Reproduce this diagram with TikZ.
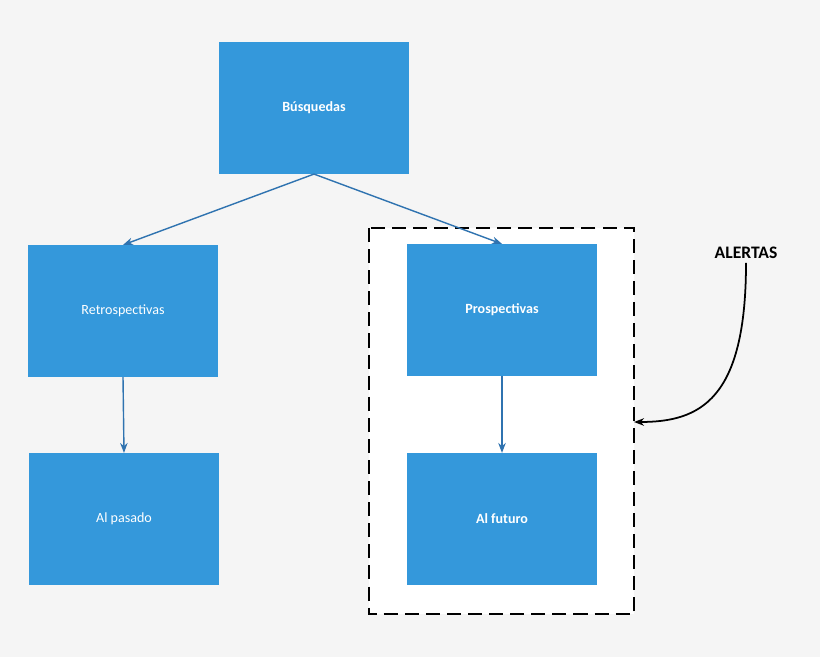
\documentclass[tikz,border=0pt]{standalone}
\usepackage{fontspec}
\setmainfont{Carlito}
\usetikzlibrary{arrows.meta}
\definecolor{boxblue}{HTML}{3498DB}
\definecolor{lineblue}{HTML}{2F73B0}
\definecolor{bggray}{HTML}{F5F5F5}
\tikzset{
  box/.style={fill=boxblue, text=white, font=\fontsize{12}{14}\selectfont, minimum width=5.7cm, minimum height=3.95cm, inner sep=0pt},
  link/.style={draw=lineblue, line width=1.2pt, -{Stealth[length=3mm]}}
}
\begin{document}
\begin{tikzpicture}[x=0.03cm, y=-0.03cm]

\fill[bggray] (0,0) rectangle (820,657);
\useasboundingbox (0,0) rectangle (820,657);
\draw[fill=white, line width=1.5pt, dash pattern=on 12pt off 6pt] (369,228) rectangle (634,614);

\node[box] (busq) at (314,108) {\textbf{Búsquedas}};
\node[box] (retro) at (123,311) {Retrospectivas};
\node[box] (pasado) at (124,519) {Al pasado};
\node[box] (prosp) at (502,310) {\textbf{Prospectivas}};
\node[box] (futuro) at (502,519) {\textbf{Al futuro}};
\node[font=\fontsize{15}{18}\selectfont\bfseries] (alertas) at (746,253) {ALERTAS};
\coordinate (marco) at (634,422);

\draw[link] (busq.south) -- (retro.north);
\draw[link] (busq.south) -- (prosp.north);
\draw[link] (retro.south) -- (pasado.north);
\draw[link] (prosp.south) -- (futuro.north);
\draw[line width=1.5pt, -{Stealth[length=3mm]}] (alertas.south) .. controls (746,400) and (700,422) .. (marco);

\end{tikzpicture}
\end{document}
